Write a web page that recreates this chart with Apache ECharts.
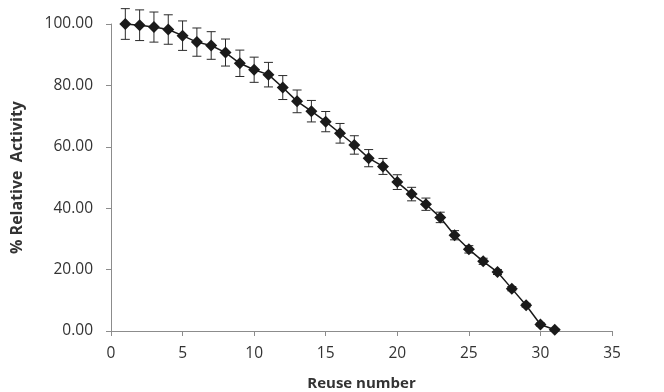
<!DOCTYPE html>
<html>
<head>
<meta charset="utf-8">
<script src="https://cdn.jsdelivr.net/npm/echarts@6/dist/echarts.min.js"></script>
<style>
  html, body { margin: 0; padding: 0; background: #fff; }
  #chart { width: 664px; height: 392px; }
</style>
</head>
<body>
<div id="chart"></div>
<script>
// reuse cycles
var reuse = [1, 2, 3, 4, 5, 6, 7, 8, 9, 10, 11, 12, 13, 14, 15, 16, 17, 18, 19, 20, 21, 22, 23, 24, 25, 26, 27, 28, 29, 30, 31];
// % relative activity
var activity = [100, 99.6, 99.0, 98.2, 96.2, 94.1, 93.0, 90.7, 87.2, 85.1, 83.5, 79.3, 74.8, 71.6, 68.2, 64.4, 60.6, 56.3, 53.6, 48.5, 44.6, 41.3, 37.0, 31.2, 26.6, 22.7, 19.2, 13.8, 8.4, 2.1, 0.4];
// error (+/-)
var errors = [5.0, 5.0, 4.9, 4.8, 4.8, 4.6, 4.5, 4.4, 4.3, 4.1, 4.0, 3.9, 3.7, 3.5, 3.3, 3.2, 3.0, 2.8, 2.6, 2.4, 2.2, 2.0, 1.7, 1.5, 1.2, 1.0, 0.8, 0.7, 0.6, 0.5, 0.4];

var lineData = reuse.map(function (x, i) { return [x, activity[i]]; });
var errData = reuse.map(function (x, i) { return [x, activity[i] - errors[i], activity[i] + errors[i]]; });

var axisGrey = '#8c8c8c';
var txt = '#333';
var font = '"Open Sans", "Liberation Sans", sans-serif';

var chart = echarts.init(document.getElementById('chart'));
chart.setOption({
  animation: false,
  backgroundColor: '#fff',
  grid: { left: 111, right: 52, top: 24, bottom: 61, containLabel: false, outerBoundsMode: 'none' },
  xAxis: {
    type: 'value',
    min: 0, max: 35, interval: 5,
    name: 'Reuse number',
    nameLocation: 'middle',
    nameGap: 45,
    nameTextStyle: { fontFamily: font, fontWeight: 'bold', fontSize: 15, color: txt },
    axisLine: { lineStyle: { color: axisGrey } },
    axisTick: { show: true, length: 5, lineStyle: { color: axisGrey } },
    axisLabel: { fontFamily: font, fontSize: 15.5, color: txt, margin: 15 },
    splitLine: { show: false }
  },
  yAxis: {
    type: 'value',
    min: 0, max: 100, interval: 20,
    name: '% Relative  Activity',
    nameLocation: 'middle',
    nameGap: 86,
    nameRotate: 90,
    nameTextStyle: { fontFamily: font, fontWeight: 'bold', fontSize: 16, color: txt },
    axisLine: { show: true, lineStyle: { color: axisGrey } },
    axisTick: { show: true, length: 5, lineStyle: { color: axisGrey } },
    axisLabel: {
      fontFamily: font, fontSize: 15.5, color: txt, margin: 18,
      formatter: function (v) { return v.toFixed(2); }
    },
    splitLine: { show: false }
  },
  series: [
    {
      type: 'custom',
      data: errData,
      z: 1,
      renderItem: function (params, api) {
        var x = api.value(0);
        var lo = api.coord([x, api.value(1)]);
        var hi = api.coord([x, api.value(2)]);
        var w = 4.5;
        var st = { stroke: '#2a2a2a', lineWidth: 1 };
        return {
          type: 'group',
          children: [
            { type: 'line', shape: { x1: lo[0], y1: lo[1], x2: hi[0], y2: hi[1] }, style: st },
            { type: 'line', shape: { x1: lo[0] - w, y1: lo[1], x2: lo[0] + w, y2: lo[1] }, style: st },
            { type: 'line', shape: { x1: hi[0] - w, y1: hi[1], x2: hi[0] + w, y2: hi[1] }, style: st }
          ]
        };
      }
    },
    {
      type: 'line',
      data: lineData,
      z: 2,
      symbol: 'diamond',
      symbolSize: 12,
      itemStyle: { color: '#1a1a1a' },
      lineStyle: { color: '#1a1a1a', width: 1.5 }
    }
  ]
});
</script>
</body>
</html>
